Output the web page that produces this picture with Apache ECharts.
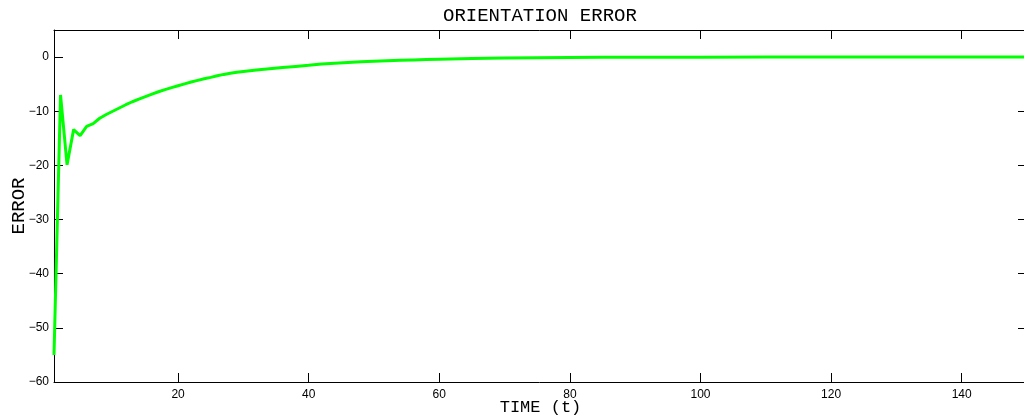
<!DOCTYPE html>
<html>
<head>
<meta charset="utf-8">
<script src="https://cdn.jsdelivr.net/npm/echarts@6/dist/echarts.min.js"></script>
<style>
html,body{margin:0;padding:0;background:#fff;}
#c{width:1024px;height:419px;}
</style>
</head>
<body>
<div id="c"></div>
<script>
const timeValues = [1,2,3,4,5,6,7,8,9,10,11,12,13,14,15,16,17,18,19,20,21,22,23,24,25,26,27,28,29,30,
  32,34,36,38,40,42,44,46,48,50,52,54,56,58,60,65,70,75,80,85,90,95,100,110,120,130,140,150];
const errorValues = [-55,-7,-19.9,-13.4,-14.5,-12.8,-12.3,-11.3,-10.6,-10.0,-9.4,-8.8,-8.25,-7.75,-7.3,-6.85,-6.4,-6.0,-5.65,-5.3,-4.95,-4.6,-4.3,-4.0,-3.75,-3.45,-3.2,-3.0,-2.82,-2.65,
  -2.4,-2.15,-1.92,-1.72,-1.53,-1.3,-1.15,-1.0,-0.88,-0.76,-0.67,-0.59,-0.52,-0.45,-0.39,-0.27,-0.18,-0.12,-0.08,-0.05,-0.035,-0.02,-0.015,-0.006,-0.003,-0.001,0,0];
const xTicks = [20,40,60,80,100,120,140];
const yTicks = [-60,-50,-40,-30,-20,-10,0];

const chart = echarts.init(document.getElementById('c'), null, {renderer:'canvas'});
const axisLine = {show:true, onZero:false, lineStyle:{color:'#000', width:1}};
const tick = (vals)=>({show:true, inside:true, length:9, customValues:vals, lineStyle:{color:'#000', width:1}});
const fmt = v => String(v).replace('-', '\u2212');
chart.setOption({
  animation:false,
  backgroundColor:'#fff',
  title:{text:'ORIENTATION ERROR', left:438, top:1,
    textStyle:{fontFamily:'Liberation Mono', fontSize:19, fontWeight:'normal', color:'#000'}},
  grid:{left:54, top:30, width:973, height:352, containLabel:false, outerBoundsMode:'none'},
  xAxis:[{
    type:'value', min:1, max:150, position:'bottom',
    name:'TIME (t)', nameLocation:'middle', nameGap:17, nameMoveOverlap:false,
    nameTextStyle:{fontFamily:'Liberation Mono', fontSize:17, color:'#000'},
    axisLine:axisLine, axisTick:tick(xTicks), splitLine:{show:false},
    axisLabel:{customValues:xTicks, fontFamily:'Liberation Sans', fontSize:12, color:'#000', margin:7, formatter:fmt}
  },{
    type:'value', min:1, max:150, position:'top',
    axisLine:axisLine, axisTick:tick(xTicks), splitLine:{show:false}, axisLabel:{show:false}
  }],
  yAxis:[{
    type:'value', min:-60, max:5, position:'left',
    name:'ERROR', nameLocation:'middle', nameGap:26, nameRotate:90, nameMoveOverlap:false,
    nameTextStyle:{fontFamily:'Liberation Mono', fontSize:19, color:'#000'},
    axisLine:axisLine, axisTick:tick(yTicks), splitLine:{show:false},
    axisLabel:{customValues:yTicks, fontFamily:'Liberation Sans', fontSize:12, color:'#000', margin:5, formatter:fmt}
  },{
    type:'value', min:-60, max:5, position:'right',
    axisLine:axisLine, axisTick:tick(yTicks), splitLine:{show:false}, axisLabel:{show:false}
  }],
  series:[{
    type:'line', xAxisIndex:0, yAxisIndex:0,
    data: timeValues.map((t,i)=>[t, errorValues[i]]),
    showSymbol:false, smooth:false,
    lineStyle:{color:'#00ff00', width:3}
  }]
});
</script>
</body>
</html>
